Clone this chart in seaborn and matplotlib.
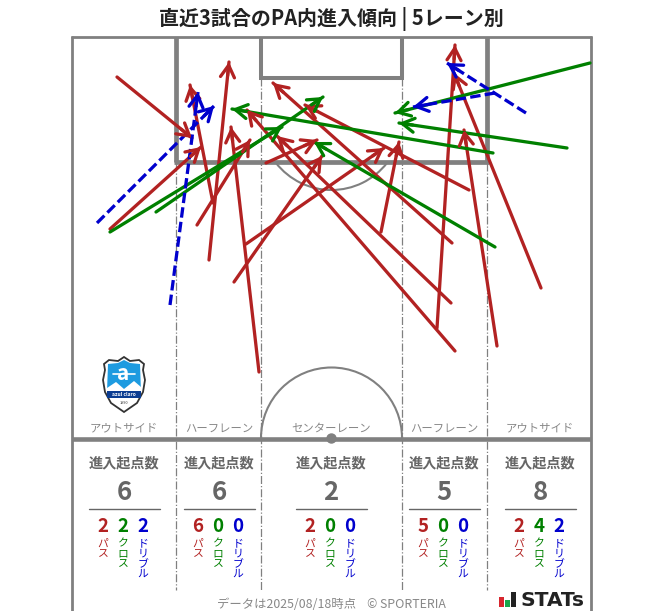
import numpy as np
import pandas as pd
import seaborn as sns
import matplotlib
matplotlib.use("Agg")
import matplotlib.pyplot as plt
from matplotlib.patches import Arc, Circle, Polygon, Rectangle

sns.set_theme(style="white")
plt.rcParams['font.family'] = ['Noto Sans CJK JP', 'DejaVu Sans']

# arrows, pixel coords (x0, y0, x1, y1)
pass_arrows = [
    (117, 77, 192, 138), (110, 229, 201, 147),
    (213, 203, 190, 85), (209, 260, 229, 62), (197, 225, 250, 140),
    (259, 372, 231, 127), (246, 244, 384, 148), (234, 282, 322, 156),
    (266, 163, 317, 140), (381, 232, 399, 142),
    (452, 243, 273, 83), (469, 190, 305, 105), (451, 303, 277, 136),
    (455, 351, 247, 110), (437, 328, 455, 45),
    (497, 346, 464, 130), (541, 288, 454, 73),
]
cross_arrows = [
    (110, 232, 282, 127), (156, 212, 323, 97),
    (590, 63, 395, 113), (567, 148, 399, 123),
    (493, 153, 232, 109), (495, 247, 314, 142),
]
dribble_arrows = [
    (97, 223, 214, 106), (170, 305, 198, 92),
    (526, 113, 447, 63), (495, 93, 413, 107),
]

lane_names = ["アウトサイド", "ハーフレーン", "センターレーン", "ハーフレーン", "アウトサイド"]
lane_x = [124, 219, 331, 444, 540]
lane_total = [6, 6, 2, 5, 8]
lane_pass = [2, 6, 2, 5, 2]
lane_cross = [2, 0, 0, 0, 4]
lane_dribble = [2, 0, 0, 0, 2]

RED = "#b22222"
GREEN = "#008000"
BLUE = "#0000cd"
GREY = "#808080"
TXT = "#666666"

rows = []
for kind, arrows in [("pass", pass_arrows), ("cross", cross_arrows), ("dribble", dribble_arrows)]:
    for a in arrows:
        rows.append({"id": f"{kind}{a}", "kind": kind, "x": a[0], "y": a[1]})
        rows.append({"id": f"{kind}{a}", "kind": kind, "x": a[2], "y": a[3]})
df = pd.DataFrame(rows)

fig = plt.figure(figsize=(6.63, 6.11), dpi=100)
ax = fig.add_axes([0, 0, 1, 1])
ax.set_xlim(0, 663)
ax.set_ylim(611, 0)
ax.axis("off")

# pitch
ax.plot([176, 176], [37, 162], color=GREY, lw=3.4, solid_capstyle="butt")
ax.plot([487, 487], [37, 162], color=GREY, lw=3.4, solid_capstyle="butt")
ax.plot([174, 489], [162, 162], color=GREY, lw=3.4, solid_capstyle="butt")
ax.plot([261, 261], [37, 78], color=GREY, lw=2.9, solid_capstyle="butt")
ax.plot([402, 402], [37, 78], color=GREY, lw=2.9, solid_capstyle="butt")
ax.plot([259, 404], [78, 78], color=GREY, lw=2.9, solid_capstyle="butt")
ax.plot([72, 72], [36, 611], color=GREY, lw=2, solid_capstyle="butt")
ax.plot([591, 591], [36, 611], color=GREY, lw=2, solid_capstyle="butt")
ax.plot([71, 592], [37, 37], color=GREY, lw=2, solid_capstyle="butt")
ax.plot([72, 591], [438.5, 438.5], color=GREY, lw=3.3, solid_capstyle="butt")
ax.add_patch(Arc((331.5, 119.5), 141, 141, theta1=38, theta2=142, ec=GREY, lw=1.5))
ax.add_patch(Arc((331.5, 438), 141, 141, theta1=180, theta2=360, ec=GREY, lw=1.5))
ax.add_patch(Circle((331.5, 438.5), 4.5, color=GREY))
for x, y0 in zip([176, 261, 402, 487], [163, 78, 78, 163]):
    ax.plot([x, x], [y0, 590], color=GREY, lw=0.9, ls="-.")

# arrows
sns.lineplot(data=df, x="x", y="y", units="id", estimator=None, sort=False,
             hue="kind", style="kind",
             palette={"pass": RED, "cross": GREEN, "dribble": BLUE},
             dashes={"pass": "", "cross": "", "dribble": (3.2, 1.3)},
             linewidth=2.35, legend=False, ax=ax)
for arrows, col in [(pass_arrows, RED), (cross_arrows, GREEN), (dribble_arrows, BLUE)]:
    for x0, y0, x1, y1 in arrows:
        n = np.hypot(x1 - x0, y1 - y0)
        ax.annotate("", xy=(x1, y1),
                    xytext=(x1 - (x1 - x0) * 14 / n, y1 - (y1 - y0) * 14 / n),
                    arrowprops=dict(arrowstyle="->,head_length=0.72,head_width=0.42",
                                    color=col, lw=2.35, shrinkA=0, shrinkB=0))
ax.set_xlabel("")
ax.set_ylabel("")

# title and footer
ax.text(331, 19, "直近3試合のPA内進入傾向 | 5レーン別", ha="center", va="center",
        fontsize=14.4, fontweight="bold", color="#222222")
ax.text(331.5, 604, "データは2025/08/18時点    © SPORTERIA", ha="center", va="center",
        fontsize=8.9, color="#888888")

# lane stats
for i, cx in enumerate(lane_x):
    ax.text(cx, 428.5, lane_names[i], ha="center", va="center", fontsize=8.2, color="#888888")
    ax.text(cx, 463, "進入起点数", ha="center", va="center", fontsize=10.2, fontweight="bold", color=TXT)
    ax.text(cx, 492, str(lane_total[i]), ha="center", va="center", fontsize=18.5, fontweight="bold", color=TXT)
    ax.plot([cx - 35.5, cx + 35.5], [508.5, 508.5], color=TXT, lw=1)
    for dx, val, lab, col in [(-21, lane_pass[i], "パス", RED),
                              (-1, lane_cross[i], "クロス", GREEN),
                              (19, lane_dribble[i], "ドリブル", BLUE)]:
        ax.text(cx + dx, 527, str(val), ha="center", va="center", fontsize=13.5, fontweight="bold", color=col)
        # vertical writing, one glyph per row
        for k, ch in enumerate(lab):
            ax.text(cx + dx, 543.5 + k * 10.2, ch, ha="center", va="center", fontsize=7.8, color=col)

# club badge
shield = np.array([(124, 357), (130, 361), (139, 360), (144, 364), (143, 370), (145, 380), (143, 392),
                   (137, 403), (124, 412), (111, 403), (105, 392), (103, 380), (105, 370), (104, 364),
                   (109, 360), (118, 361)])
ax.add_patch(Polygon(shield, closed=True, fc="white", ec="#333333", lw=1.3))
ax.add_patch(Polygon([(108, 364), (118, 363), (124, 360), (130, 363), (140, 364), (141, 392), (107, 392)],
                     closed=True, fc="#1e9be0", ec="none"))
ax.add_patch(Polygon([(107, 392), (107, 388), (116, 382), (124, 389), (134, 381), (141, 387), (141, 392)],
                     closed=True, fc="white", ec="none"))
ax.add_patch(Rectangle((107, 391), 34, 6.5, fc="#0b3c91", ec="none"))
ax.text(124, 394, "azul claro", ha="center", va="center", fontsize=3.6, fontweight="bold", color="white")
ax.text(124, 402.5, "1990", ha="center", va="center", fontsize=2.8, color="#333333")
ax.text(123, 373, "a", ha="center", va="center", fontsize=15, fontweight="bold", color="white")
ax.plot([113, 135], [374, 374], color="white", lw=1.2)

# STATS logo
ax.add_patch(Rectangle((499, 597), 5, 10, fc="#d7262e", ec="none"))
ax.add_patch(Rectangle((505, 600), 5, 7, fc="#1aa64b", ec="none"))
ax.add_patch(Rectangle((511, 592), 5, 15, fc="#222222", ec="none"))
ax.text(521, 600.5, "STATs", ha="left", va="center", fontsize=14.6, fontweight="bold",
        color="#222222", family="DejaVu Sans")

fig.savefig("out.png", dpi=100)
